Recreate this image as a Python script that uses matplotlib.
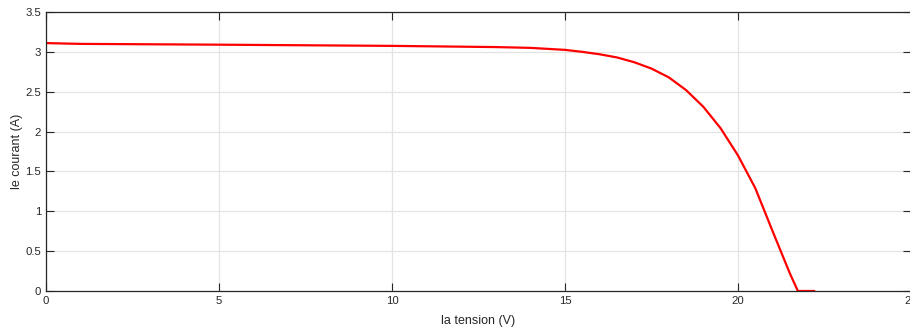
import matplotlib
matplotlib.use('Agg')
import matplotlib.pyplot as plt

# I-V curve of the PV panel
tension = [0, 1, 5, 10, 13, 14, 15, 15.5, 16, 16.5, 17, 17.5, 18, 18.5,
           19, 19.5, 20, 20.5, 21, 21.5, 21.73, 22.2]
courant = [3.11, 3.10, 3.09, 3.075, 3.06, 3.05, 3.025, 3.0, 2.97, 2.93, 2.87,
           2.79, 2.68, 2.52, 2.31, 2.04, 1.70, 1.29, 0.75, 0.22, 0.0, 0.0]

xticks = [0, 5, 10, 15, 20, 25]
yticks = [0, 0.5, 1, 1.5, 2, 2.5, 3, 3.5]

plt.rcParams['font.family'] = ['Liberation Sans', 'DejaVu Sans']
dark = '#262626'

fig = plt.figure(figsize=(9.1, 3.29), dpi=100)
ax = fig.add_axes([46 / 910, 1 - 291 / 329, 865 / 910, 279 / 329])

ax.plot(tension, courant, color='red', linewidth=1.6)

ax.set_xlim(0, 25)
ax.set_ylim(0, 3.5)
ax.set_xticks(xticks)
ax.set_yticks(yticks)
ax.set_xticklabels([str(t) for t in xticks])
ax.set_yticklabels(['0', '0.5', '1', '1.5', '2', '2.5', '3', '3.5'])

ax.grid(True, color='#e3e3e3', linewidth=0.9)
ax.set_axisbelow(True)
ax.tick_params(direction='in', length=5.8, width=0.8, colors=dark,
               labelsize=8.2, top=True, right=True, pad=3.5)
for s in ax.spines.values():
    s.set_color(dark)
    s.set_linewidth(0.9)

ax.set_xlabel('la tension (V)', fontsize=9, color=dark, labelpad=6.5)
ax.set_ylabel('le courant (A)', fontsize=9, color=dark, labelpad=1.5)

fig.savefig('out.png', dpi=100)
